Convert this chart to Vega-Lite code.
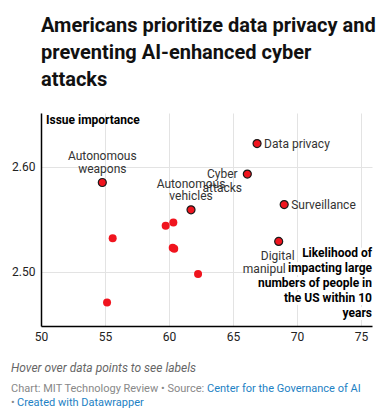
{
  "$schema": "https://vega.github.io/schema/vega-lite/v6.json",
  "padding": {"left": 11, "top": 16, "right": 5, "bottom": 3},
  "background": "white",
  "config": {"font": "Roboto", "view": {"stroke": null}, "concat": {"spacing": 14}},
  "title": {
    "text": ["Americans prioritize data privacy and", "preventing AI-enhanced cyber", "attacks"],
    "anchor": "start", "fontSize": 20, "fontWeight": "bold", "lineHeight": 27,
    "color": "#111111", "offset": 23, "frame": "group"
  },
  "datasets": {
    "points": [
      {"likelihood": 54.79, "importance": 2.585, "label": "Autonomous weapons"},
      {"likelihood": 55.6, "importance": 2.532},
      {"likelihood": 55.16, "importance": 2.471},
      {"likelihood": 59.74, "importance": 2.544},
      {"likelihood": 60.34, "importance": 2.547},
      {"likelihood": 60.29, "importance": 2.523},
      {"likelihood": 60.41, "importance": 2.522},
      {"likelihood": 61.72, "importance": 2.559, "label": "Autonomous vehicles"},
      {"likelihood": 62.27, "importance": 2.498},
      {"likelihood": 66.88, "importance": 2.622, "label": "Data privacy"},
      {"likelihood": 66.12, "importance": 2.593, "label": "Cyber attacks"},
      {"likelihood": 69.0, "importance": 2.564, "label": "Surveillance"},
      {"likelihood": 68.57, "importance": 2.529, "label": "Digital manipulation"}
    ],
    "annotations": [
      {"kind": "xtitle", "likelihood": 75.86, "importance": 2.5228, "lines": ["Likelihood of", "impacting large", "numbers of people in", "the US within 10", "years"]},
      {"kind": "ytitle", "likelihood": 50, "importance": 2.651, "lines": ["Issue importance"]}
    ],
    "footer": [
      {"part": "hover", "text": "Hover over data points to see labels"},
      {"part": "credit", "text": "Chart: MIT Technology Review • Source:"},
      {"part": "source", "text": "Center for the Governance of AI"},
      {"part": "dot", "text": "•"},
      {"part": "dw", "text": "Created with Datawrapper"}
    ]
  },
  "vconcat": [
    {
      "width": 331,
      "height": 213,
      "encoding": {
        "x": {
          "field": "likelihood", "type": "quantitative",
          "scale": {"domain": [50, 75.86], "nice": false, "zero": false},
          "axis": {
            "values": [50, 55, 60, 65, 70, 75], "title": null, "grid": true,
            "gridColor": "#e3e3e3", "domainColor": "#000000", "domainWidth": 1.5,
            "ticks": false, "labelFontSize": 12, "labelColor": "#222222",
            "labelPadding": 5, "labelFlush": false
          }
        },
        "y": {
          "field": "importance", "type": "quantitative",
          "scale": {"domain": [2.4487, 2.651], "nice": false, "zero": false},
          "axis": {
            "values": [2.5, 2.6], "format": ".2f", "title": null, "grid": true,
            "gridColor": "#e3e3e3", "domainColor": "#000000", "domainWidth": 1.5,
            "ticks": false, "labelFontSize": 12, "labelColor": "#222222",
            "labelPadding": 6
          }
        }
      },
      "layer": [
        {
          "data": {"name": "points"},
          "mark": {"type": "point", "filled": true, "size": 64, "color": "#f0141e", "stroke": "#1a1a1a", "opacity": 1},
          "encoding": {
            "strokeWidth": {"condition": {"test": "isValid(datum.label)", "value": 1.2}, "value": 0}
          }
        },
        {
          "data": {"name": "points"},
          "transform": [{"filter": "datum.label == 'Data privacy' || datum.label == 'Surveillance'"}],
          "mark": {"type": "text", "align": "left", "baseline": "middle", "dx": 7, "fontSize": 12, "color": "#333333"},
          "encoding": {"text": {"field": "label"}}
        },
        {
          "data": {"name": "points"},
          "transform": [
            {"filter": "datum.label == 'Autonomous weapons' || datum.label == 'Autonomous vehicles'"},
            {"calculate": "split(datum.label, ' ')", "as": "lines"}
          ],
          "mark": {"type": "text", "align": "center", "baseline": "bottom", "dy": -19, "fontSize": 12, "lineHeight": 12.5, "color": "#333333"},
          "encoding": {"text": {"field": "lines"}}
        },
        {
          "data": {"name": "points"},
          "transform": [
            {"filter": "datum.label == 'Cyber attacks'"},
            {"calculate": "split(datum.label, ' ')", "as": "lines"}
          ],
          "mark": {"type": "text", "align": "center", "baseline": "top", "dx": -25, "dy": -5, "fontSize": 12, "lineHeight": 13.5, "color": "#333333"},
          "encoding": {"text": {"field": "lines"}}
        },
        {
          "data": {"name": "points"},
          "transform": [
            {"filter": "datum.label == 'Digital manipulation'"},
            {"calculate": "split(datum.label, ' ')", "as": "lines"}
          ],
          "mark": {"type": "text", "align": "center", "baseline": "top", "dx": -1, "dy": 10, "fontSize": 12, "lineHeight": 13, "color": "#333333"},
          "encoding": {"text": {"field": "lines"}}
        },
        {
          "data": {"name": "annotations"},
          "transform": [{"filter": "datum.kind == 'xtitle'"}],
          "mark": {
            "type": "text", "align": "right", "baseline": "top", "fontSize": 12, "fontWeight": "bold",
            "lineHeight": 15, "color": "#ffffff", "stroke": "#ffffff", "strokeWidth": 6, "strokeJoin": "round"
          },
          "encoding": {"text": {"field": "lines"}}
        },
        {
          "data": {"name": "annotations"},
          "transform": [{"filter": "datum.kind == 'xtitle'"}],
          "mark": {
            "type": "text", "align": "right", "baseline": "top", "fontSize": 12, "fontWeight": "bold",
            "lineHeight": 15, "color": "#000000"
          },
          "encoding": {"text": {"field": "lines"}}
        },
        {
          "data": {"name": "annotations"},
          "transform": [{"filter": "datum.kind == 'ytitle'"}],
          "mark": {
            "type": "text", "align": "left", "baseline": "top", "dx": 5, "dy": 2, "fontSize": 12,
            "fontWeight": "bold", "color": "#000000"
          },
          "encoding": {"text": {"field": "lines"}}
        }
      ]
    },
    {
      "width": 360,
      "height": 52,
      "data": {"name": "footer"},
      "layer": [
        {
          "transform": [{"filter": "datum.part == 'hover'"}],
          "mark": {"type": "text", "align": "left", "baseline": "alphabetic", "fontSize": 12, "fontStyle": "italic", "color": "#666666"},
          "encoding": {"x": {"value": -30}, "y": {"value": 16}, "text": {"field": "text"}}
        },
        {
          "transform": [{"filter": "datum.part == 'credit'"}],
          "mark": {"type": "text", "align": "left", "baseline": "alphabetic", "fontSize": 11, "color": "#888888"},
          "encoding": {"x": {"value": -30}, "y": {"value": 36}, "text": {"field": "text"}}
        },
        {
          "transform": [{"filter": "datum.part == 'source'"}],
          "mark": {"type": "text", "align": "left", "baseline": "alphabetic", "fontSize": 11, "color": "#1d81c4", "dx": 196},
          "encoding": {"x": {"value": -30}, "y": {"value": 36}, "text": {"field": "text"}}
        },
        {
          "transform": [{"filter": "datum.part == 'dot'"}],
          "mark": {"type": "text", "align": "left", "baseline": "alphabetic", "fontSize": 11, "color": "#888888"},
          "encoding": {"x": {"value": -30}, "y": {"value": 50}, "text": {"field": "text"}}
        },
        {
          "transform": [{"filter": "datum.part == 'dw'"}],
          "mark": {"type": "text", "align": "left", "baseline": "alphabetic", "fontSize": 11, "color": "#1d81c4", "dx": 6},
          "encoding": {"x": {"value": -30}, "y": {"value": 50}, "text": {"field": "text"}}
        }
      ]
    }
  ]
}
